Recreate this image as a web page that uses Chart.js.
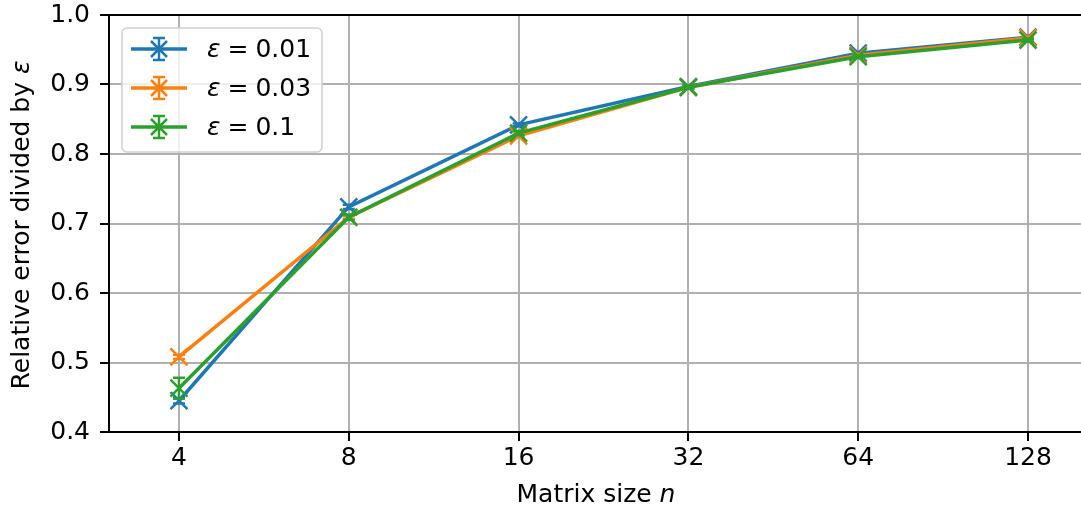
<!DOCTYPE html>
<html>
<head>
<meta charset="utf-8">
<script src="https://cdn.jsdelivr.net/npm/chart.js@4/dist/chart.umd.min.js"></script>
<style>
  html, body { margin: 0; padding: 0; background: #fff; overflow: hidden; }
  #wrap { width: 1081px; height: 512px; }
</style>
</head>
<body>
<div id="wrap"><canvas id="chart" width="1081" height="512"></canvas></div>
<script>
// Matrix sizes (plotted on a log2 axis)
const sizes = [4, 8, 16, 32, 64, 128];
const yTicks = [0.4, 0.5, 0.6, 0.7, 0.8, 0.9, 1.0];

const labels = ['0.01', '0.03', '0.1'];
const colors = ['#1f77b4', '#ff7f0e', '#2ca02c'];

const err001 = [0.445, 0.724, 0.842, 0.897, 0.945, 0.968];
const err003 = [0.508, 0.709, 0.826, 0.896, 0.942, 0.967];
const err01  = [0.463, 0.709, 0.830, 0.896, 0.940, 0.964];

const sd001 = [0.004, 0.003, 0.002, 0.002, 0.002, 0.002];
const sd003 = [0.003, 0.002, 0.002, 0.002, 0.002, 0.002];
const sd01  = [0.015, 0.004, 0.003, 0.002, 0.002, 0.002];

const FONT = "'DejaVu Sans', sans-serif";
const FS = 25;

function points(values) {
    return values.map((v, i) => ({ x: Math.log2(sizes[i]), y: v }));
}

const series = [
    { label: labels[0], values: err001, sd: sd001, color: colors[0], order: 3 },
    { label: labels[1], values: err003, sd: sd003, color: colors[1], order: 2 },
    { label: labels[2], values: err01,  sd: sd01,  color: colors[2], order: 1 }
];

// error bars, drawn right after each dataset so layering follows the lines
const errorBars = {
    id: 'errorBars',
    afterDatasetDraw(chart, args) {
        const s = series[args.index];
        const { ctx, scales } = chart;
        ctx.save();
        ctx.strokeStyle = s.color;
        ctx.lineWidth = 2.5;
        s.values.forEach((v, i) => {
            const x = scales.x.getPixelForValue(Math.log2(sizes[i]));
            const y1 = scales.y.getPixelForValue(v - s.sd[i]);
            const y2 = scales.y.getPixelForValue(v + s.sd[i]);
            ctx.beginPath();
            ctx.moveTo(x, y1); ctx.lineTo(x, y2);
            ctx.moveTo(x - 6, y1); ctx.lineTo(x + 6, y1);
            ctx.moveTo(x - 6, y2); ctx.lineTo(x + 6, y2);
            ctx.stroke();
        });
        ctx.restore();
    }
};

function mixedText(ctx, parts, x, y) {
    let cx = x;
    parts.forEach(([t, it, gap]) => {
        ctx.font = `${it ? 'italic ' : ''}${FS}px ${FONT}`;
        cx += gap || 0;
        ctx.fillText(t, cx, y);
        cx += ctx.measureText(t).width;
    });
    return cx - x;
}

function measureParts(ctx, parts) {
    let w = 0;
    parts.forEach(([t, it, gap]) => {
        ctx.font = `${it ? 'italic ' : ''}${FS}px ${FONT}`;
        w += (gap || 0) + ctx.measureText(t).width;
    });
    return w;
}

// spines, axis titles and legend box in matplotlib style
const decorations = {
    id: 'decorations',
    afterDraw(chart) {
        const { ctx, chartArea: a } = chart;
        ctx.save();
        ctx.strokeStyle = '#000';
        ctx.lineWidth = 2;
        ctx.beginPath();
        ctx.moveTo(chart.width, a.top);
        ctx.lineTo(a.left, a.top);
        ctx.lineTo(a.left, a.bottom);
        ctx.lineTo(chart.width, a.bottom);
        ctx.stroke();

        ctx.fillStyle = '#000';
        ctx.textBaseline = 'middle';
        ctx.textAlign = 'left';
        // x title
        const xParts = [['Matrix size ', false], ['n', true]];
        const wx = measureParts(ctx, xParts);
        mixedText(ctx, xParts, 596 - wx / 2, 495);

        // y title
        ctx.save();
        ctx.translate(22, 225);
        ctx.rotate(-Math.PI / 2);
        const yParts = [['Relative error divided by ', false], ['ε', true]];
        const wy = measureParts(ctx, yParts);
        mixedText(ctx, yParts, -wy / 2, 0);
        ctx.restore();

        // legend
        const bx = 122, by = 28, bw = 200, bh = 124, r = 5;
        ctx.beginPath();
        ctx.roundRect(bx, by, bw, bh, r);
        ctx.fillStyle = 'rgba(255,255,255,0.8)';
        ctx.fill();
        ctx.strokeStyle = '#d0d0d0';
        ctx.lineWidth = 1.5;
        ctx.stroke();

        series.forEach((s, i) => {
            const y = 49 + i * 39;
            ctx.strokeStyle = s.color;
            ctx.lineWidth = 3.5;
            ctx.beginPath();
            ctx.moveTo(131, y); ctx.lineTo(187, y);
            ctx.stroke();
            const cx = 159;
            ctx.lineWidth = 2.5;
            ctx.beginPath();
            ctx.moveTo(cx, y - 11); ctx.lineTo(cx, y + 11);
            ctx.moveTo(cx - 6, y - 11); ctx.lineTo(cx + 6, y - 11);
            ctx.moveTo(cx - 6, y + 11); ctx.lineTo(cx + 6, y + 11);
            ctx.moveTo(cx - 8, y - 8); ctx.lineTo(cx + 8, y + 8);
            ctx.moveTo(cx - 8, y + 8); ctx.lineTo(cx + 8, y - 8);
            ctx.stroke();

            ctx.fillStyle = '#000';
            mixedText(ctx, [['ε', true], ['=', false, 7], [s.label, false, 7]], 207, y + 1);
        });
        ctx.restore();
    }
};

function fixPadding(scale) {
    scale.paddingTop = 0;
    scale.paddingBottom = 0;
    scale.paddingLeft = 0;
    scale.paddingRight = 0;
}

new Chart(document.getElementById('chart'), {
    type: 'line',
    data: {
        datasets: series.map(s => ({
            label: 'ε = ' + s.label,
            data: points(s.values),
            borderColor: s.color,
            backgroundColor: s.color,
            borderWidth: 3.5,
            pointStyle: 'crossRot',
            pointRadius: 12,
            pointHoverRadius: 12,
            pointBorderWidth: 2.5,
            tension: 0,
            order: s.order
        }))
    },
    options: {
        responsive: false,
        animation: false,
        events: [],
        // the plot runs past the right edge of the picture
        layout: { autoPadding: false, padding: { top: 15, right: 0, left: 0, bottom: 0 } },
        plugins: { legend: { display: false }, tooltip: { enabled: false } },
        scales: {
            x: {
                type: 'linear',
                min: 1.588,
                max: 7.312,
                afterBuildTicks(scale) {
                    scale.ticks = sizes.map(n => ({ value: Math.log2(n) }));
                },
                afterFit(scale) { scale.height = 80; fixPadding(scale); },
                ticks: {
                    callback: v => String(Math.round(2 ** v)),
                    color: '#000',
                    font: { family: FONT, size: FS },
                    padding: 2,
                    maxRotation: 0
                },
                grid: { color: '#b0b0b0', lineWidth: 2, tickLength: 9, tickColor: '#000', tickWidth: 2 },
                border: { display: false }
            },
            y: {
                min: 0.4,
                max: 1.0,
                afterBuildTicks(scale) {
                    scale.ticks = yTicks.map(v => ({ value: v }));
                },
                afterFit(scale) { scale.width = 109; fixPadding(scale); },
                ticks: {
                    callback: v => v.toFixed(1),
                    color: '#000',
                    font: { family: FONT, size: FS },
                    padding: 10
                },
                grid: { color: '#b0b0b0', lineWidth: 2, tickLength: 9, tickColor: '#000', tickWidth: 2 },
                border: { display: false }
            }
        }
    },
    plugins: [errorBars, decorations]
});
</script>
</body>
</html>
